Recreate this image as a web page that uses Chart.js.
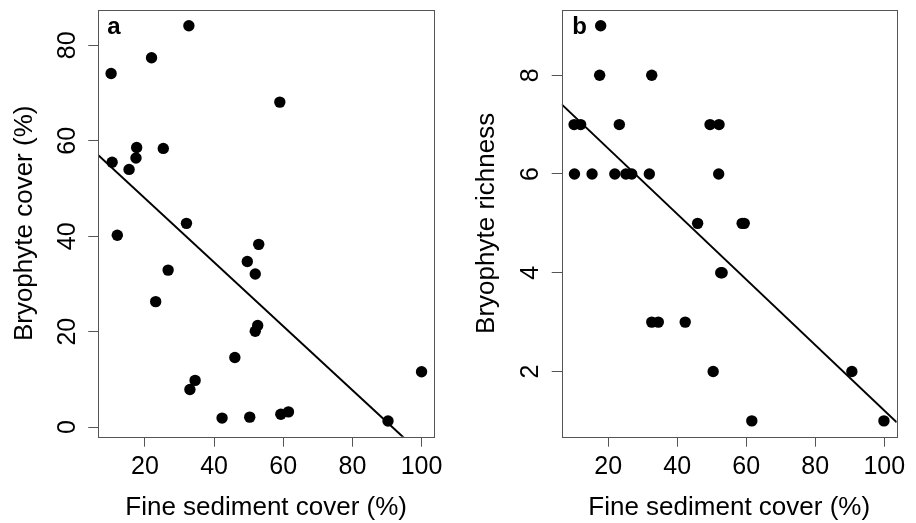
<!DOCTYPE html>
<html>
<head>
<meta charset="utf-8">
<script src="https://cdn.jsdelivr.net/npm/chart.js@4/dist/chart.umd.min.js"></script>
<style>
  html, body { margin: 0; padding: 0; background: #fff; }
  #wrap { position: relative; width: 916px; height: 523px; }
  canvas { position: absolute; top: 0; }
</style>
</head>
<body>
<div id="wrap">
  <canvas id="cA" width="458" height="523" style="left:0px"></canvas>
  <canvas id="cB" width="458" height="523" style="left:458px"></canvas>
</div>
<script>
// ---------- DATA ----------
const panelLabels = ['a', 'b'];
const xTitle = 'Fine sediment cover (%)';
const yTitles = ['Bryophyte cover (%)', 'Bryophyte richness'];

const xTicks = [20, 40, 60, 80, 100];
const yTicksA = [0, 20, 40, 60, 80];
const yTicksB = [2, 4, 6, 8];

// panel a: sediment (%) vs bryophyte cover (%)
const sedimentA = [10.2, 32.7, 21.9, 59.0, 10.5, 17.6, 17.4, 15.4, 25.3, 32.0, 12.0, 52.9, 49.6, 26.7,
                   51.9, 23.1, 52.6, 51.9, 46.0, 34.5, 33.0, 42.3, 50.3, 59.3, 61.5, 90.3, 100.0];
const coverA    = [74.1, 84.1, 77.4, 68.1, 55.5, 58.6, 56.4, 54.0, 58.4, 42.7, 40.2, 38.3, 34.7, 32.9,
                   32.1, 26.3, 21.3, 20.1, 14.6, 9.8, 7.9, 1.9, 2.1, 2.7, 3.2, 1.3, 11.6];

// panel b: sediment (%) vs bryophyte richness
const sedimentB = [17.8, 17.5, 32.6, 10.1, 12.0, 23.2, 49.5, 52.1, 10.2, 15.3, 21.9, 25.1, 26.8, 31.9,
                   52.0, 45.9, 58.8, 59.4, 52.6, 53.0, 32.6, 34.5, 42.3, 50.4, 90.6, 61.6, 99.9];
const richnessB = [9, 8, 8, 7, 7, 7, 7, 7, 6, 6, 6, 6, 6, 6, 6, 5, 5, 5, 4, 4, 3, 3, 3, 2, 2, 1, 1];

// fitted regression lines (intercept, slope)
const fitA = [61.35, -0.670];
const fitB = [7.84, -0.0663];

// axis ranges
const xRange = [6.5, 103.6];
const yRangeA = [-2.0, 87.4];
const yRangeB = [0.68, 9.32];

// ---------- CHART ----------
const FONT = "'Liberation Sans', Arial, Helvetica, sans-serif";
const BOX = '#555555';

function fitLine(fit) {
  return [
    { x: xRange[0], y: fit[0] + fit[1] * xRange[0] },
    { x: xRange[1], y: fit[0] + fit[1] * xRange[1] }
  ];
}

function makeChart(canvasId, xs, ys, fit, yRange, yTicks, label, yTitle, geom) {
  const pts = xs.map((x, i) => ({ x: x, y: ys[i] }));
  const boxPlugin = {
    id: 'rbox',
    afterDraw(chart) {
      const ctx = chart.ctx;
      const a = chart.chartArea;
      ctx.save();
      ctx.strokeStyle = BOX;
      ctx.lineWidth = 1;
      ctx.strokeRect(Math.round(a.left) + 0.5, Math.round(a.top) + 0.5,
                     Math.round(a.right - a.left), Math.round(a.bottom - a.top));
      // rotated y tick labels (R style)
      const ys = chart.scales.y;
      ctx.fillStyle = '#000';
      ctx.font = '25px ' + FONT;
      ctx.textAlign = 'center';
      ctx.textBaseline = 'alphabetic';
      ys.ticks.forEach(t => {
        const py = ys.getPixelForValue(t.value);
        ctx.save();
        ctx.translate(a.left - 23.4, py);
        ctx.rotate(-Math.PI / 2);
        ctx.fillText(String(t.value), 0, 0);
        ctx.restore();
      });
      // panel label
      ctx.font = 'bold 24px ' + FONT;
      ctx.textAlign = 'left';
      ctx.fillText(label, a.left + geom.labDx, a.top + 23.5);
      ctx.restore();
    }
  };

  return new Chart(document.getElementById(canvasId), {
    type: 'scatter',
    data: {
      datasets: [
        {
          type: 'scatter',
          data: pts,
          backgroundColor: '#000',
          borderWidth: 0,
          pointRadius: 5.7,
          pointHoverRadius: 5.7
        },
        {
          type: 'line',
          data: fitLine(fit),
          borderColor: '#000',
          borderWidth: 2,
          pointRadius: 0,
          fill: false,
          tension: 0
        }
      ]
    },
    options: {
      responsive: false,
      animation: false,
      devicePixelRatio: 1,
      events: [],
      layout: { autoPadding: false, padding: { left: 0, right: geom.padR, top: 10, bottom: 0 } },
      plugins: { legend: { display: false }, tooltip: { enabled: false } },
      scales: {
        x: {
          type: 'linear',
          position: 'bottom',
          min: xRange[0], max: xRange[1],
          afterBuildTicks: s => { s.ticks = xTicks.map(v => ({ value: v })); },
          afterFit: s => { s.height = 523 - 10 - geom.plotH; },
          grid: { display: true, drawOnChartArea: false, drawTicks: true, tickLength: 10, color: BOX, lineWidth: 1 },
          border: { display: false },
          ticks: { color: '#000', font: { family: FONT, size: 25 }, padding: 5, maxRotation: 0, minRotation: 0, autoSkip: false },
          title: { display: true, text: xTitle, color: '#000', font: { family: FONT, size: 26 }, padding: { top: 0, bottom: 0 } }
        },
        y: {
          type: 'linear',
          position: 'left',
          min: yRange[0], max: yRange[1],
          afterBuildTicks: s => { s.ticks = yTicks.map(v => ({ value: v })); },
          afterFit: s => { s.width = geom.yW; },
          grid: { display: true, drawOnChartArea: false, drawTicks: true, tickLength: 10, color: BOX, lineWidth: 1 },
          border: { display: false },
          ticks: { display: false },
          title: { display: true, text: yTitle, color: '#000', font: { family: FONT, size: 26 }, padding: { top: geom.yTitlePad, bottom: 0 } }
        }
      }
    },
    plugins: [boxPlugin]
  });
}

makeChart('cA', sedimentA, coverA, fitA, yRangeA, yTicksA, panelLabels[0], yTitles[0],
          { padR: 24, yW: 98.3, plotH: 426.7, yTitlePad: 9.4, labDx: 9 });
makeChart('cB', sedimentB, richnessB, fitB, yRangeB, yTicksB, panelLabels[1], yTitles[1],
          { padR: 19.3, yW: 103.7, plotH: 426.7, yTitlePad: 13.4, labDx: 10.5 });
</script>
</body>
</html>
